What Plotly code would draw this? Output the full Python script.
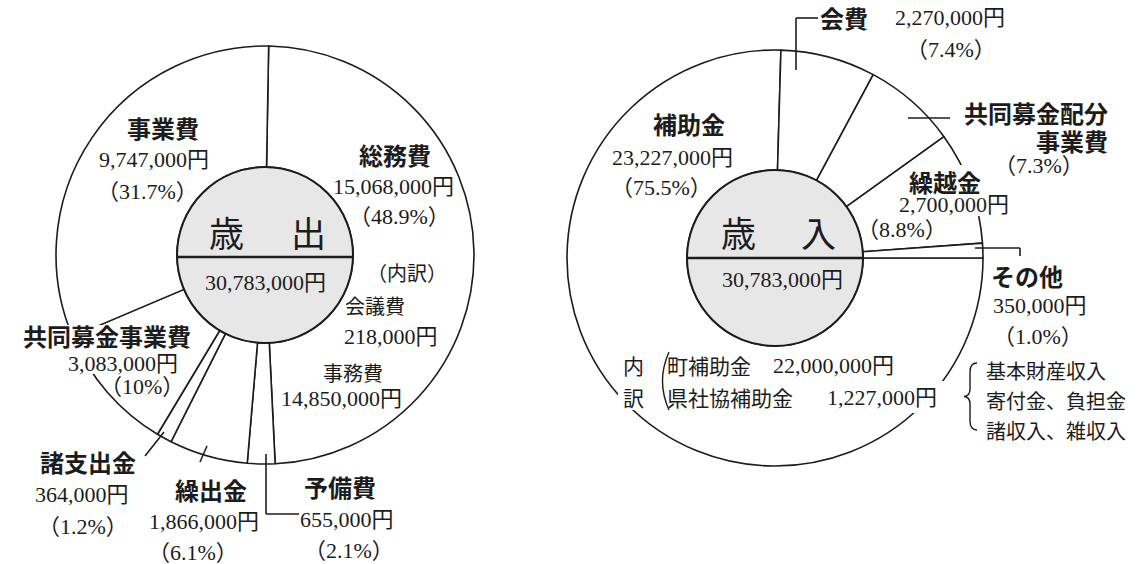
import plotly.graph_objects as go

W, H = 1142, 564

# ---------------- data ----------------
total = 30783000

exp_labels = ["総務費", "予備費", "繰出金", "諸支出金", "共同募金事業費", "事業費"]
exp_values = [15068000, 655000, 1866000, 364000, 3083000, 9747000]
exp_pct = ["48.9%", "2.1%", "6.1%", "1.2%", "10%", "31.7%"]

exp_sub_labels = ["会議費", "事務費"]
exp_sub_values = [218000, 14850000]

rev_labels = ["補助金", "会費", "共同募金配分事業費", "繰越金", "その他"]
rev_values = [23227000, 2270000, 2236000, 2700000, 350000]
rev_pct = ["75.5%", "7.4%", "7.3%", "8.8%", "1.0%"]

rev_sub_labels = ["町補助金", "県社協補助金"]
rev_sub_values = [22000000, 1227000]
other_items = ["基本財産収入", "寄付金、負担金", "諸収入、雑収入"]

# ---------------- helpers ----------------
def px(x):
    return x / W

def py(y):
    return 1 - y / H

def yen(v):
    return f"{v:,}円"

def pct(p):
    return f"（{p}）"

INK = "#1c1c1c"
SANS = "Noto Sans CJK JP"
SERIF = "Liberation Serif, Noto Sans CJK JP"

fig = go.Figure()

L = dict(cx=265, cy=255, r=209, ri=88)
R = dict(cx=775, cy=258, r=208, ri=88)


def dom(c):
    return dict(x=[px(c["cx"] - c["r"]), px(c["cx"] + c["r"])],
                y=[py(c["cy"] + c["r"]), py(c["cy"] - c["r"])])


fig.add_trace(go.Pie(
    labels=exp_labels, values=exp_values, sort=False, direction="clockwise",
    rotation=1, hole=L["ri"] / L["r"], domain=dom(L),
    marker=dict(colors=["white"] * len(exp_values), line=dict(color=INK, width=1.6)),
    textinfo="none", hoverinfo="label+value", showlegend=False))

fig.add_trace(go.Pie(
    labels=rev_labels, values=rev_values, sort=False, direction="clockwise",
    rotation=90, hole=R["ri"] / R["r"], domain=dom(R),
    marker=dict(colors=["white"] * len(rev_values), line=dict(color=INK, width=1.6)),
    textinfo="none", hoverinfo="label+value", showlegend=False))

shapes = []


def line(x0, y0, x1, y1, w=1.6):
    shapes.append(dict(type="line", xref="paper", yref="paper",
                       x0=px(x0), y0=py(y0), x1=px(x1), y1=py(y1),
                       line=dict(color=INK, width=w)))


def mask(x0, y0, x1, y1):
    shapes.append(dict(type="rect", xref="paper", yref="paper",
                       x0=px(x0), y0=py(y1), x1=px(x1), y1=py(y0),
                       fillcolor="white", line=dict(width=0), layer="above"))


def path(pts_cmd, w=1.4):
    s = ""
    for cmd, pts in pts_cmd:
        s += cmd + " " + " ".join(f"{px(x):.5f},{py(y):.5f}" for x, y in pts) + " "
    shapes.append(dict(type="path", xref="paper", yref="paper", path=s.strip(),
                       line=dict(color=INK, width=w)))


# white masks where labels interrupt the outlines
mask(14, 325, 200, 350)      # 共同募金事業費
mask(60, 350, 184, 374)      # 3,083,000円
mask(946, 165, 1000, 216)    # 繰越金 / 2,700,000円
mask(618, 389, 647, 410)     # 訳
mask(903, 381, 950, 413)     # 1,227,000円

# inner grey discs with divider line
for c, dy in ((L, 2), (R, 0)):
    shapes.append(dict(type="circle", xref="paper", yref="paper",
                       x0=px(c["cx"] - c["ri"]), x1=px(c["cx"] + c["ri"]),
                       y0=py(c["cy"] + c["ri"]), y1=py(c["cy"] - c["ri"]),
                       fillcolor="#e7e7e7", line=dict(color=INK, width=2)))
    line(c["cx"] - c["ri"], c["cy"] + dy, c["cx"] + c["ri"], c["cy"] + dy, w=2.5)

# leader lines (left)
line(266, 454, 266, 514)
line(266, 514, 299, 514)
line(207, 446, 200, 462)
line(164, 432, 145, 456)
# leader lines (right)
line(796, 70, 796, 18)
line(796, 18, 818, 18)
line(908, 118, 950, 118)
line(975, 248, 1020, 248)
line(1020, 248, 1020, 256)

# brace for その他 breakdown
path([("M", [(977, 363)]), ("Q", [(970, 363), (970, 372)]), ("L", [(970, 389)]),
      ("Q", [(970, 396), (964, 396.5)]), ("Q", [(970, 397), (970, 404)]),
      ("L", [(970, 421)]), ("Q", [(970, 430), (977, 430)])])
# paren for 内訳
path([("M", [(669, 352)]), ("Q", [(656, 381), (669, 410)])])

fig.update_layout(shapes=shapes)


def ann(x, y, text, size=20, bold=False, serif=False, xanchor="center"):
    fig.add_annotation(
        x=px(x), y=py(y), xref="paper", yref="paper", text=text, showarrow=False,
        font=dict(family=SERIF if serif else SANS, size=size, color=INK,
                  weight=700 if bold else 400),
        xanchor=xanchor, yanchor="middle", borderpad=0)


BOLD = 24
VAL = 22

# ---- 歳出 (left) ----
ann(226, 232, "歳", 35)
ann(308, 232, "出", 35)
ann(265, 282, yen(total), 22, serif=True)

e = dict(zip(exp_labels, zip(exp_values, exp_pct)))
ann(163, 127, "事業費", BOLD, bold=True)
ann(154, 159, yen(e["事業費"][0]), VAL, serif=True)
ann(148, 191, pct(e["事業費"][1]), VAL, serif=True)

ann(395, 154, "総務費", BOLD, bold=True)
ann(393, 187, yen(e["総務費"][0]), VAL, serif=True)
ann(399, 217, pct(e["総務費"][1]), VAL, serif=True)

ann(407, 272, "（内訳）", 20)
ann(375, 305, exp_sub_labels[0], 20)
ann(391, 337, yen(exp_sub_values[0]), VAL, serif=True)
ann(353, 372, exp_sub_labels[1], 20)
ann(341, 398, yen(exp_sub_values[1]), VAL, serif=True)

ann(107, 335, "共同募金事業費", BOLD, bold=True)
ann(123, 363, yen(e["共同募金事業費"][0]), VAL, serif=True)
ann(142, 386, pct(e["共同募金事業費"][1]), VAL, serif=True)

ann(88, 461, "諸支出金", BOLD, bold=True)
ann(82, 494, yen(e["諸支出金"][0]), VAL, serif=True)
ann(83, 526, pct(e["諸支出金"][1]), VAL, serif=True)

ann(211, 489, "繰出金", BOLD, bold=True)
ann(204, 521, yen(e["繰出金"][0]), VAL, serif=True)
ann(193, 552, pct(e["繰出金"][1]), VAL, serif=True)

ann(340, 486, "予備費", BOLD, bold=True)
ann(347, 519, yen(e["予備費"][0]), VAL, serif=True)
ann(349, 550, pct(e["予備費"][1]), VAL, serif=True)

# ---- 歳入 (right) ----
ann(738, 232, "歳", 35)
ann(818, 232, "入", 35)
ann(782, 279, yen(total), 22, serif=True)

r = dict(zip(rev_labels, zip(rev_values, rev_pct)))
ann(689, 124, "補助金", BOLD, bold=True)
ann(672, 157, yen(r["補助金"][0]), VAL, serif=True)
ann(661, 188, pct(r["補助金"][1]), VAL, serif=True)

ann(844, 18, "会費", BOLD, bold=True)
ann(950, 18, yen(r["会費"][0]), VAL, serif=True)
ann(951, 50, pct(r["会費"][1]), VAL, serif=True)

ann(1109, 112, "共同募金配分", BOLD, bold=True, xanchor="right")
ann(1109, 140, "事業費", BOLD, bold=True, xanchor="right")
ann(1039, 165, pct(r["共同募金配分事業費"][1]), VAL, serif=True)

ann(945, 181, "繰越金", BOLD, bold=True)
ann(954, 205, yen(r["繰越金"][0]), VAL, serif=True)
ann(902, 229, pct(r["繰越金"][1]), VAL, serif=True)

ann(1027, 275, "その他", BOLD, bold=True)
ann(1040, 305, yen(r["その他"][0]), VAL, serif=True)
ann(1038, 337, pct(r["その他"][1]), VAL, serif=True)
for i, t in enumerate(other_items):
    ann(985, 370 + 30 * i, t, 20, xanchor="left")

ann(633, 365, "内", 21)
ann(633, 397, "訳", 21)
ann(666, 365, rev_sub_labels[0], 21, xanchor="left")
ann(833, 365, yen(rev_sub_values[0]), VAL, serif=True)
ann(666, 397, rev_sub_labels[1], 21, xanchor="left")
ann(882, 397, yen(rev_sub_values[1]), VAL, serif=True)

fig.update_layout(
    width=W, height=H, margin=dict(l=0, r=0, t=0, b=0),
    paper_bgcolor="white", plot_bgcolor="white", showlegend=False,
)

fig.write_html(
    "out.html",
    config={"displayModeBar": False},
    post_script="document.body.style.margin='0px';document.body.style.overflow='hidden';",
)
